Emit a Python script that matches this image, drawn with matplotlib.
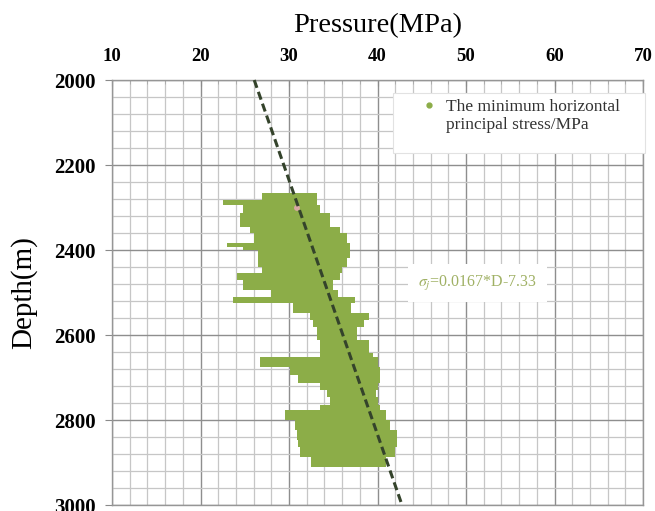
import matplotlib
matplotlib.use('Agg')
import matplotlib.pyplot as plt
from matplotlib.lines import Line2D
from matplotlib.patches import Rectangle

# ---- data ----
# depth bands of the dense stress point cloud (m) and their pressure extent (MPa)
band_edges = [2266, 2282, 2294, 2313, 2329, 2346, 2360, 2383, 2392, 2400, 2419,
              2440, 2454, 2471, 2494, 2511, 2525, 2548, 2565, 2581, 2612, 2642,
              2652, 2675, 2694, 2713, 2729, 2746, 2765, 2777, 2800, 2824, 2847,
              2864, 2887, 2911]
band_left = [26.9, 22.5, 24.8, 24.5, 24.5, 25.6, 26.0, 23.0, 24.8, 26.5, 26.5,
             27.0, 24.1, 24.8, 28.0, 23.7, 30.5, 32.4, 32.7, 33.2, 33.5, 33.5,
             26.7, 30.1, 31.0, 33.5, 34.3, 34.6, 33.5, 29.6, 30.7, 30.9, 31.0,
             31.2, 32.5]
band_right = [33.2, 33.2, 33.5, 34.6, 34.6, 35.8, 36.5, 36.9, 36.9, 36.9, 36.5,
              36.0, 35.8, 35.0, 35.5, 37.5, 37.0, 39.0, 38.5, 37.7, 39.0, 39.5,
              40.0, 40.3, 40.3, 40.0, 39.8, 40.0, 40.3, 41.0, 41.4, 42.2, 42.2,
              42.0, 41.0]

pink_pressure = [30.9]
pink_depth = [2301]

fit_slope = 0.0167
fit_intercept = -7.33
fit_depth = [2000, 3000]

x_ticks = [10, 20, 30, 40, 50, 60, 70]
y_ticks = [2000, 2200, 2400, 2600, 2800, 3000]
x_minor = list(range(10, 71, 2))
y_minor = list(range(2000, 3001, 40))

legend_line1 = 'The minimum horizontal'
legend_line2 = 'principal stress/MPa'
fit_label = r'$\sigma_j$=0.0167*D-7.33'

# ---- styling ----
plt.rcParams['font.family'] = ['Liberation Serif', 'DejaVu Serif']
plt.rcParams['mathtext.fontset'] = 'stix'

green = '#8cad48'

fig = plt.figure(figsize=(6.55, 5.11), dpi=100)
ax = fig.add_axes([0.1710, 0.0117, 0.8107, 0.8317])

mids = [(a + b) / 2 for a, b in zip(band_edges[:-1], band_edges[1:])]
heights = [b - a for a, b in zip(band_edges[:-1], band_edges[1:])]
widths = [r - l for l, r in zip(band_left, band_right)]
ax.barh(mids, widths, left=band_left, height=heights, color=green,
        edgecolor='none', zorder=3)
ax.scatter(pink_pressure, pink_depth, s=18, color='#d9a8a4', zorder=3.5,
           edgecolors='none')

fit_p = [fit_slope * d + fit_intercept for d in fit_depth]
ax.plot(fit_p, fit_depth, color='#34432b', lw=2.2, linestyle=(0, (2.7, 1.4)),
        zorder=4, clip_on=False)

ax.set_xlim(10, 70)
ax.set_ylim(3000, 2000)
ax.set_xticks(x_ticks)
ax.set_yticks(y_ticks)
ax.set_xticks(x_minor, minor=True)
ax.set_yticks(y_minor, minor=True)
ax.xaxis.tick_top()
ax.xaxis.set_label_position('top')

ax.grid(which='major', color='#8e8e8e', lw=1.0, zorder=0)
ax.grid(which='minor', color='#c6c6c6', lw=0.9, zorder=0)
ax.set_axisbelow(True)
for s in ax.spines.values():
    s.set_color('#969696')
    s.set_linewidth(1.0)

ax.tick_params(axis='x', which='major', direction='in', length=4, pad=11,
               labelsize=13.5, color='#8a8a8a')
ax.tick_params(axis='x', which='minor', direction='in', length=3, color='#aaaaaa')
ax.tick_params(axis='y', which='major', direction='out', length=5, pad=7,
               labelsize=15, color='#8a8a8a')
ax.tick_params(axis='y', which='minor', length=0)
for lab in ax.get_xticklabels() + ax.get_yticklabels():
    lab.set_fontweight('bold')

ax.set_xlabel('Pressure(MPa)', fontsize=20.5, labelpad=11)
ax.set_ylabel('Depth(m)', fontsize=21, labelpad=12)

# legend background box
ax.add_patch(Rectangle((0.529, 0.828), 0.475, 0.141, transform=ax.transAxes,
                       facecolor='white', edgecolor='#e2e2e2', lw=0.8,
                       zorder=5, clip_on=False))
handle = Line2D([], [], marker='o', color=green, linestyle='none', markersize=3.5)
blank = Line2D([], [], linestyle='none', marker='none')
leg = ax.legend([handle, blank], [legend_line1, legend_line2], loc='upper left',
                bbox_to_anchor=(0.567, 0.973), frameon=False, fontsize=12.5,
                handlelength=1.0, handletextpad=0.5, borderaxespad=0,
                labelspacing=0.15)
for t in leg.get_texts():
    t.set_color('#333333')
leg.set_zorder(6)

ax.text(0.576, 0.522, fit_label, transform=ax.transAxes, fontsize=11.5,
        color='#a0b165', va='center', ha='left', zorder=6,
        bbox=dict(facecolor='white', edgecolor='none', pad=7))

fig.savefig('out.png', dpi=100)
